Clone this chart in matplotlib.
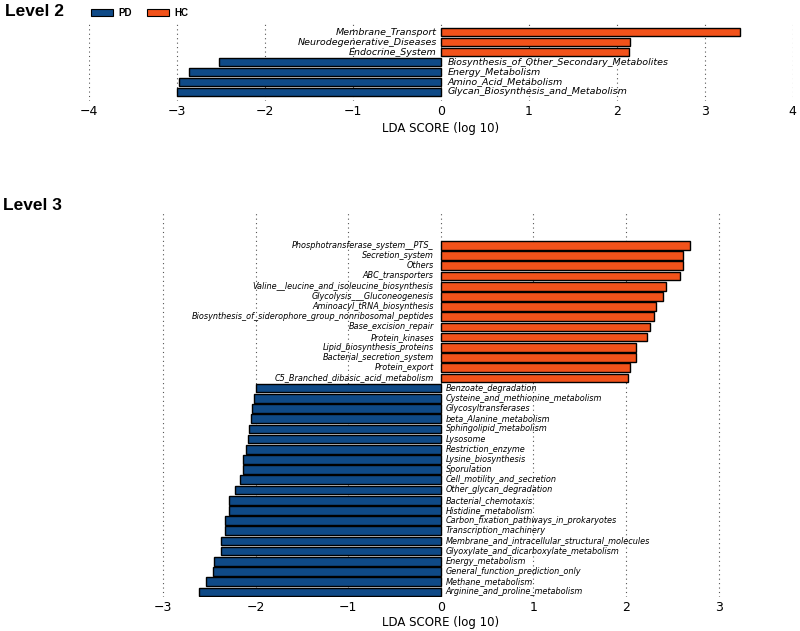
import matplotlib
matplotlib.use("Agg")
import matplotlib.pyplot as plt
from matplotlib.patches import Patch

# ---------------- data ----------------
l2_names = ["Membrane_Transport", "Neurodegenerative_Diseases", "Endocrine_System",
            "Biosynthesis_of_Other_Secondary_Metabolites", "Energy_Metabolism",
            "Amino_Acid_Metabolism", "Glycan_Biosynthesis_and_Metabolism"]
l2_values = [3.40, 2.15, 2.14, -2.52, -2.86, -2.97, -3.00]

l3_names = ["Phosphotransferase_system__PTS_", "Secretion_system", "Others", "ABC_transporters",
            "Valine__leucine_and_isoleucine_biosynthesis", "Glycolysis___Gluconeogenesis",
            "Aminoacyl_tRNA_biosynthesis", "Biosynthesis_of_siderophore_group_nonribosomal_peptides",
            "Base_excision_repair", "Protein_kinases", "Lipid_biosynthesis_proteins",
            "Bacterial_secretion_system", "Protein_export", "C5_Branched_dibasic_acid_metabolism",
            "Benzoate_degradation", "Cysteine_and_methionine_metabolism", "Glycosyltransferases",
            "beta_Alanine_metabolism", "Sphingolipid_metabolism", "Lysosome", "Restriction_enzyme",
            "Lysine_biosynthesis", "Sporulation", "Cell_motility_and_secretion",
            "Other_glycan_degradation", "Bacterial_chemotaxis", "Histidine_metabolism",
            "Carbon_fixation_pathways_in_prokaryotes", "Transcription_machinery",
            "Membrane_and_intracellular_structural_molecules", "Glyoxylate_and_dicarboxylate_metabolism",
            "Energy_metabolism", "General_function_prediction_only", "Methane_metabolism",
            "Arginine_and_proline_metabolism"]
l3_values = [2.69, 2.62, 2.62, 2.58, 2.43, 2.40, 2.32, 2.30, 2.26, 2.23, 2.11, 2.11, 2.04, 2.02,
             -2.00, -2.02, -2.04, -2.05, -2.07, -2.08, -2.10, -2.13, -2.14, -2.17, -2.22,
             -2.29, -2.29, -2.33, -2.33, -2.37, -2.37, -2.45, -2.46, -2.54, -2.61]

groups = ["PD", "HC"]
ticks_l2 = [-4, -3, -2, -1, 0, 1, 2, 3, 4]
ticks_l3 = [-3, -2, -1, 0, 1, 2, 3]

PD_COLOR = "#0f4a87"
HC_COLOR = "#f2521a"

fig = plt.figure(figsize=(8, 6.31), dpi=100)


def draw(ax, names, values, xlim, ticks, fs, neg_off, pos_off, ylim, labelpad):
    n = len(names)
    ys = list(range(n - 1, -1, -1))
    colors = [HC_COLOR if v > 0 else PD_COLOR for v in values]
    ax.barh(ys, values, height=0.85, color=colors, edgecolor="black", linewidth=1.0, zorder=3)
    for y, name, v in zip(ys, names, values):
        if v > 0:
            ax.annotate(name, (0, y), xytext=(-pos_off, 0), textcoords="offset points",
                        ha="right", va="center", fontsize=fs, style="italic", zorder=4)
        else:
            ax.annotate(name, (0, y), xytext=(neg_off, 0), textcoords="offset points",
                        ha="left", va="center", fontsize=fs, style="italic", zorder=4)
    ax.set_xlim(*xlim)
    ax.set_ylim(*ylim)
    ax.set_xticks(ticks)
    ax.set_xticklabels([("\u2212%d" % -t) if t < 0 else str(t) for t in ticks])
    ax.set_yticks([])
    for s in ax.spines.values():
        s.set_visible(False)
    ax.tick_params(axis="x", length=0, pad=3, labelsize=9)
    ax.grid(axis="x", linestyle=(0, (1, 3)), color="#555555", linewidth=0.8, zorder=0)
    ax.set_xlabel("LDA SCORE (log 10)", fontsize=8.5, labelpad=labelpad)


ax2 = fig.add_axes([0.111, 0.840, 0.880, 0.125])
draw(ax2, l2_names, l2_values, (-4, 4), ticks_l2, 6.8, 5, 3, (-0.9, 7.0), 3)

# level 3 axes: top ~213 px, bottom ~597 px
ax3 = fig.add_axes([0.111, 1 - 597 / 631, 0.880, (597 - 213) / 631])
draw(ax3, l3_names, l3_values, (-3.8, 3.8), ticks_l3, 5.9, 3.5, 5, (-0.5, 37.18), 1)

fig.text(0.006, 0.981, "Level 2", fontsize=12.5, fontweight="bold",
         family="Liberation Sans", va="center", ha="left")
fig.text(0.004, 0.675, "Level 3", fontsize=12.5, fontweight="bold",
         family="Liberation Sans", va="center", ha="left")

handles = [Patch(facecolor=PD_COLOR, edgecolor="black", linewidth=0.8),
           Patch(facecolor=HC_COLOR, edgecolor="black", linewidth=0.8)]
fig.legend(handles, groups, loc="center left", bbox_to_anchor=(0.114, 0.979), ncol=2,
           frameon=False, prop={"family": "Liberation Sans", "weight": "bold", "size": 7},
           handlelength=2.2, handleheight=0.7, handletextpad=0.6, columnspacing=1.6,
           borderpad=0, borderaxespad=0)

fig.savefig("out.png", dpi=100)
